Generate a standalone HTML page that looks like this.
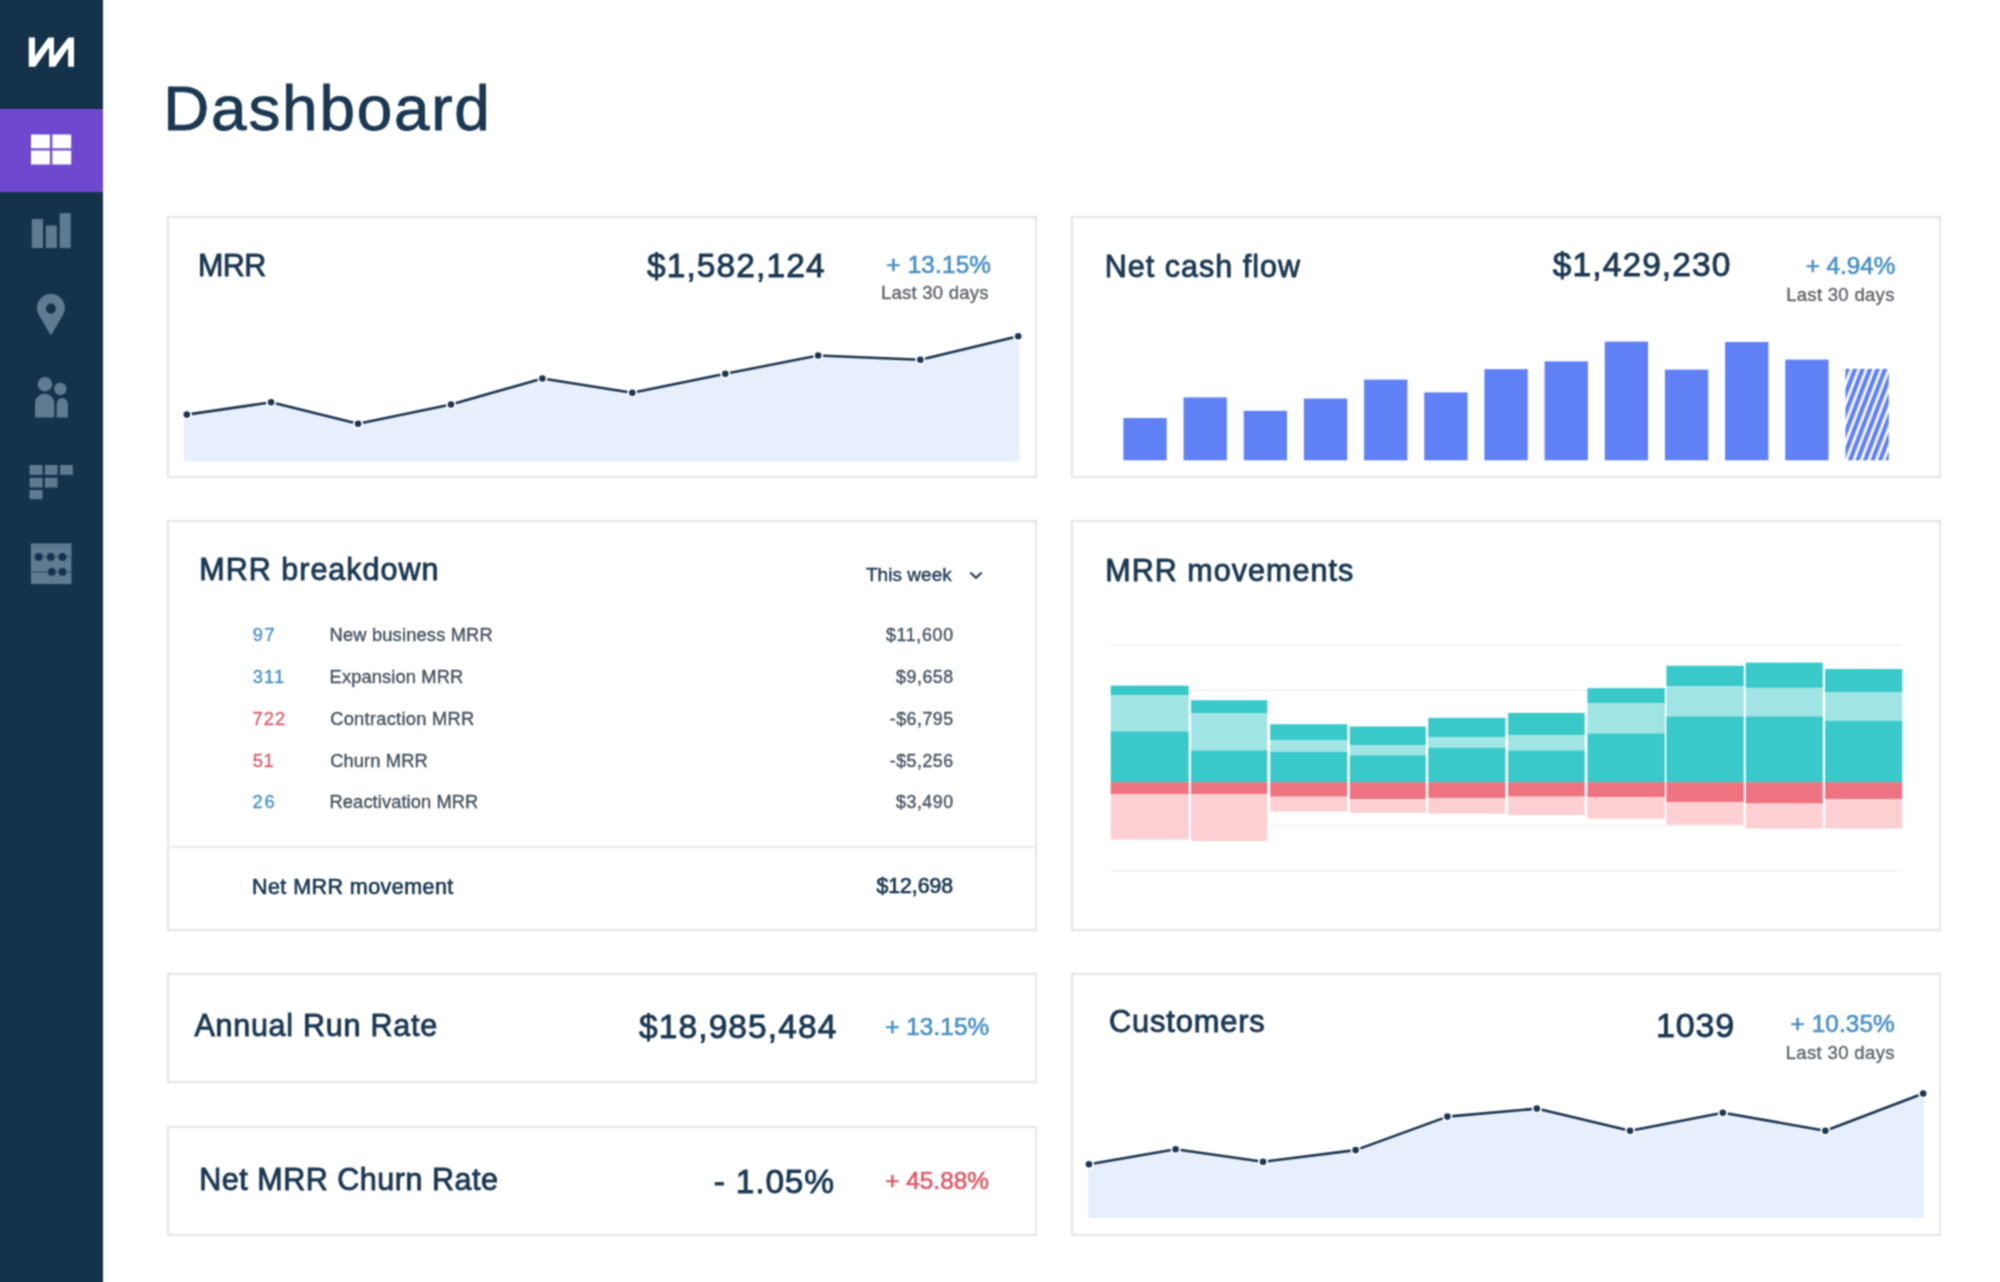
<!DOCTYPE html>
<html><head><meta charset="utf-8"><title>Dashboard</title>
<style>
html,body{margin:0;padding:0;width:2000px;height:1282px;overflow:hidden;background:#ffffff;}
body{position:relative;font-family:"Liberation Sans",sans-serif;}
#sb{position:absolute;left:0;top:0;width:103px;height:1282px;background:#15324b;}
#sbact{position:absolute;left:0;top:109px;width:103px;height:83px;background:#6e49cf;}
.card{position:absolute;box-sizing:border-box;border:2px solid #e5e5e5;background:#fff;}
.t{position:absolute;white-space:nowrap;}
#wrap{position:absolute;left:0;top:0;width:2000px;height:1282px;overflow:hidden;filter:url(#soft);}
</style></head><body><svg width="0" height="0" style="position:absolute;left:0;top:0"><filter id="soft" x="0" y="0" width="100%" height="100%" filterUnits="objectBoundingBox" color-interpolation-filters="sRGB"><feConvolveMatrix order="3" kernelMatrix="1 2 1 2 4 2 1 2 1" divisor="16" edgeMode="duplicate"/></filter></svg><div id="wrap">
<div id="sb"></div>
<div id="sbact"></div>
<svg id="icons" width="103" height="1282" viewBox="0 0 103 1282" style="position:absolute;left:0;top:0">
<polygon fill="#ffffff" points="28.8,66.7 28.8,37.6 35,37.6 35,55.9 48.4,37.6 54,37.6 54,55.9 68.4,37.6 74,37.6 74,66.7 68.1,66.7 68.1,48 55.2,66.7 49,66.7 49,47.5 35.3,66.7"/>
<g fill="#ffffff">
<rect x="31" y="134.5" width="18.9" height="13.8"/><rect x="52.3" y="134.5" width="18.9" height="13.8"/>
<rect x="31" y="150.5" width="18.9" height="14"/><rect x="52.3" y="150.5" width="18.9" height="14"/>
</g>
<g fill="#5f7b91">
<rect x="31.8" y="219" width="11.2" height="29"/><rect x="45.8" y="225.6" width="11" height="22.4"/><rect x="59.7" y="213.1" width="11" height="34.9"/>
<path d="M50.9,335.4 L38.6,314.5 A14,14 0 1 1 63.2,314.5 Z M50.9,303.6 A5,5 0 1 0 50.91,303.6 Z" fill-rule="evenodd"/>
<circle cx="44.9" cy="384.2" r="7.3"/><circle cx="60.3" cy="388.9" r="6.2"/>
<path d="M35,417.6 V403.4 A9.65,9.65 0 0 1 54.3,403.4 V417.6 Z"/>
<path d="M56.7,417.6 V404 A5.6,5.9 0 0 1 67.9,404 V417.6 Z"/>
<rect x="29.6" y="465" width="12.9" height="9.8"/><rect x="44.9" y="465" width="12.6" height="9.8"/><rect x="60.1" y="465" width="12.7" height="9.8"/>
<rect x="29.6" y="477.8" width="12.9" height="9.7"/><rect x="44.9" y="477.8" width="12.6" height="9.7"/>
<rect x="29.6" y="490" width="12.9" height="9.2"/>
<rect x="30.9" y="543.4" width="40.6" height="40.7"/>
</g>
<g fill="#163250">
<circle cx="38.7" cy="556.9" r="3.9"/><circle cx="50.7" cy="556.9" r="3.9"/><circle cx="62.5" cy="556.9" r="3.9"/>
<circle cx="51.8" cy="571.9" r="3.9"/><circle cx="62.5" cy="571.9" r="3.9"/>
<rect x="33.5" y="556.5" width="40" height="0.8" opacity="0.6"/><rect x="30.9" y="571.5" width="42.5" height="0.8" opacity="0.8"/>
</g>
</svg>
<div class="t" style="left:163.22px;top:76.69px;font-size:63.80px;line-height:63.80px;color:#1b3852;letter-spacing:1.813px;-webkit-text-stroke:0.8999999999999999px #1b3852;">Dashboard</div>
<div class="card" style="left:167px;top:216px;width:870px;height:262px"></div>
<div class="card" style="left:1071px;top:216px;width:870px;height:262px"></div>
<div class="card" style="left:167px;top:520px;width:870px;height:411px"></div>
<div class="card" style="left:1071px;top:520px;width:870px;height:411px"></div>
<div class="card" style="left:167px;top:973px;width:870px;height:110px"></div>
<div class="card" style="left:167px;top:1126px;width:870px;height:110px"></div>
<div class="card" style="left:1071px;top:973px;width:870px;height:263px"></div>
<div style="position:absolute;left:167px;top:846px;width:870px;height:2px;background:#ececec"></div>
<div class="t" style="left:197.95px;top:249.58px;font-size:30.50px;line-height:30.50px;color:#1b3852;letter-spacing:-0.588px;-webkit-text-stroke:0.8999999999999999px #1b3852;">MRR</div>
<div class="t" style="left:646.95px;top:248.64px;font-size:33.50px;line-height:33.50px;color:#1b3852;letter-spacing:1.108px;-webkit-text-stroke:0.8999999999999999px #1b3852;">$1,582,124</div>
<div class="t" style="left:886.36px;top:252.83px;font-size:24.30px;line-height:24.30px;color:#4a91c6;letter-spacing:0.173px;-webkit-text-stroke:0.66px #4a91c6;">+ 13.15%</div>
<div class="t" style="left:881.06px;top:284.44px;font-size:18.50px;line-height:18.50px;color:#5e6369;letter-spacing:0.230px;-webkit-text-stroke:0.36px #5e6369;">Last 30 days</div>
<div class="t" style="left:1104.75px;top:250.68px;font-size:30.50px;line-height:30.50px;color:#1b3852;letter-spacing:1.023px;-webkit-text-stroke:0.8999999999999999px #1b3852;">Net cash flow</div>
<div class="t" style="left:1552.85px;top:247.64px;font-size:33.50px;line-height:33.50px;color:#1b3852;letter-spacing:1.093px;-webkit-text-stroke:0.8999999999999999px #1b3852;">$1,429,230</div>
<div class="t" style="left:1805.66px;top:253.93px;font-size:24.30px;line-height:24.30px;color:#4a91c6;letter-spacing:-0.030px;-webkit-text-stroke:0.66px #4a91c6;">+ 4.94%</div>
<div class="t" style="left:1786.16px;top:285.64px;font-size:18.50px;line-height:18.50px;color:#5e6369;letter-spacing:0.303px;-webkit-text-stroke:0.36px #5e6369;">Last 30 days</div>
<div class="t" style="left:199.35px;top:554.48px;font-size:30.50px;line-height:30.50px;color:#1b3852;letter-spacing:0.999px;-webkit-text-stroke:0.8999999999999999px #1b3852;">MRR breakdown</div>
<div class="t" style="left:865.96px;top:564.67px;font-size:19.00px;line-height:19.00px;color:#1b3852;letter-spacing:0.040px;-webkit-text-stroke:0.36px #1b3852;">This week</div>
<div class="t" style="left:252.64px;top:625.91px;font-size:18.30px;line-height:18.30px;color:#4a91c6;letter-spacing:1.747px;-webkit-text-stroke:0.36px #4a91c6;">97</div>
<div class="t" style="left:329.58px;top:625.91px;font-size:18.30px;line-height:18.30px;color:#45525f;letter-spacing:0.174px;-webkit-text-stroke:0.36px #45525f;">New business MRR</div>
<div class="t" style="left:885.97px;top:626.93px;font-size:17.80px;line-height:17.80px;color:#45525f;letter-spacing:0.686px;-webkit-text-stroke:0.36px #45525f;">$11,600</div>
<div class="t" style="left:252.78px;top:667.51px;font-size:18.30px;line-height:18.30px;color:#4a91c6;letter-spacing:1.172px;-webkit-text-stroke:0.36px #4a91c6;">311</div>
<div class="t" style="left:329.58px;top:667.51px;font-size:18.30px;line-height:18.30px;color:#45525f;letter-spacing:0.132px;-webkit-text-stroke:0.36px #45525f;">Expansion MRR</div>
<div class="t" style="left:896.07px;top:668.53px;font-size:17.80px;line-height:17.80px;color:#45525f;letter-spacing:0.541px;-webkit-text-stroke:0.36px #45525f;">$9,658</div>
<div class="t" style="left:252.53px;top:709.91px;font-size:18.30px;line-height:18.30px;color:#dc5c6c;letter-spacing:1.091px;-webkit-text-stroke:0.36px #dc5c6c;">722</div>
<div class="t" style="left:330.16px;top:709.91px;font-size:18.30px;line-height:18.30px;color:#45525f;letter-spacing:0.277px;-webkit-text-stroke:0.36px #45525f;">Contraction MRR</div>
<div class="t" style="left:889.80px;top:710.93px;font-size:17.80px;line-height:17.80px;color:#45525f;letter-spacing:0.499px;-webkit-text-stroke:0.36px #45525f;">-$6,795</div>
<div class="t" style="left:252.75px;top:751.51px;font-size:18.30px;line-height:18.30px;color:#dc5c6c;letter-spacing:0.601px;-webkit-text-stroke:0.36px #dc5c6c;">51</div>
<div class="t" style="left:330.16px;top:751.51px;font-size:18.30px;line-height:18.30px;color:#45525f;letter-spacing:0.126px;-webkit-text-stroke:0.36px #45525f;">Churn MRR</div>
<div class="t" style="left:889.80px;top:752.53px;font-size:17.80px;line-height:17.80px;color:#45525f;letter-spacing:0.505px;-webkit-text-stroke:0.36px #45525f;">-$5,256</div>
<div class="t" style="left:252.57px;top:792.51px;font-size:18.30px;line-height:18.30px;color:#4a91c6;letter-spacing:1.711px;-webkit-text-stroke:0.36px #4a91c6;">26</div>
<div class="t" style="left:329.58px;top:792.51px;font-size:18.30px;line-height:18.30px;color:#45525f;letter-spacing:0.088px;-webkit-text-stroke:0.36px #45525f;">Reactivation MRR</div>
<div class="t" style="left:896.07px;top:793.53px;font-size:17.80px;line-height:17.80px;color:#45525f;letter-spacing:0.520px;-webkit-text-stroke:0.36px #45525f;">$3,490</div>
<div class="t" style="left:251.97px;top:876.80px;font-size:21.50px;line-height:21.50px;color:#1b3852;letter-spacing:0.442px;-webkit-text-stroke:0.66px #1b3852;">Net MRR movement</div>
<div class="t" style="left:876.57px;top:875.67px;font-size:21.30px;line-height:21.30px;color:#1b3852;letter-spacing:-0.091px;-webkit-text-stroke:0.66px #1b3852;">$12,698</div>
<div class="t" style="left:1105.25px;top:554.68px;font-size:30.50px;line-height:30.50px;color:#1b3852;letter-spacing:1.026px;-webkit-text-stroke:0.8999999999999999px #1b3852;">MRR movements</div>
<div class="t" style="left:194.39px;top:1009.68px;font-size:30.50px;line-height:30.50px;color:#1b3852;letter-spacing:0.751px;-webkit-text-stroke:0.8999999999999999px #1b3852;">Annual Run Rate</div>
<div class="t" style="left:639.05px;top:1009.64px;font-size:33.50px;line-height:33.50px;color:#1b3852;letter-spacing:1.095px;-webkit-text-stroke:0.8999999999999999px #1b3852;">$18,985,484</div>
<div class="t" style="left:885.16px;top:1014.63px;font-size:24.30px;line-height:24.30px;color:#4a91c6;letter-spacing:0.087px;-webkit-text-stroke:0.66px #4a91c6;">+ 13.15%</div>
<div class="t" style="left:199.25px;top:1163.68px;font-size:30.50px;line-height:30.50px;color:#1b3852;letter-spacing:0.520px;-webkit-text-stroke:0.8999999999999999px #1b3852;">Net MRR Churn Rate</div>
<div class="t" style="left:713.78px;top:1164.64px;font-size:33.50px;line-height:33.50px;color:#1b3852;letter-spacing:0.812px;-webkit-text-stroke:0.8999999999999999px #1b3852;">- 1.05%</div>
<div class="t" style="left:885.16px;top:1168.93px;font-size:24.30px;line-height:24.30px;color:#dc5c6c;letter-spacing:0.058px;-webkit-text-stroke:0.66px #dc5c6c;">+ 45.88%</div>
<div class="t" style="left:1108.91px;top:1007.13px;font-size:30.80px;line-height:30.80px;color:#1b3852;letter-spacing:0.858px;-webkit-text-stroke:0.8999999999999999px #1b3852;">Customers</div>
<div class="t" style="left:1656.07px;top:1008.22px;font-size:34.00px;line-height:34.00px;color:#1b3852;letter-spacing:0.833px;-webkit-text-stroke:0.8999999999999999px #1b3852;">1039</div>
<div class="t" style="left:1790.46px;top:1012.43px;font-size:24.30px;line-height:24.30px;color:#4a91c6;letter-spacing:0.130px;-webkit-text-stroke:0.66px #4a91c6;">+ 10.35%</div>
<div class="t" style="left:1785.66px;top:1043.84px;font-size:18.50px;line-height:18.50px;color:#5e6369;letter-spacing:0.357px;-webkit-text-stroke:0.36px #5e6369;">Last 30 days</div>
<svg width="2000" height="1282" style="position:absolute;left:0;top:0">
<polygon fill="#e8effc" points="184,461.5 184,414.6 186.8,414.6 271.1,402.3 358.1,423.8 451,404.5 542.4,378.5 632.3,392.7 725.3,373.8 818.2,355.5 920.4,359.8 1018.2,336.3 1019.5,336.3 1019.5,461.5"/><polyline fill="none" stroke="#1d3550" stroke-width="2.6" stroke-linejoin="round" points="186.8,414.6 271.1,402.3 358.1,423.8 451,404.5 542.4,378.5 632.3,392.7 725.3,373.8 818.2,355.5 920.4,359.8 1018.2,336.3"/><circle cx="186.8" cy="414.6" r="4.2" fill="#1d3550" stroke="#ffffff" stroke-width="1.8"/><circle cx="271.1" cy="402.3" r="4.2" fill="#1d3550" stroke="#ffffff" stroke-width="1.8"/><circle cx="358.1" cy="423.8" r="4.2" fill="#1d3550" stroke="#ffffff" stroke-width="1.8"/><circle cx="451" cy="404.5" r="4.2" fill="#1d3550" stroke="#ffffff" stroke-width="1.8"/><circle cx="542.4" cy="378.5" r="4.2" fill="#1d3550" stroke="#ffffff" stroke-width="1.8"/><circle cx="632.3" cy="392.7" r="4.2" fill="#1d3550" stroke="#ffffff" stroke-width="1.8"/><circle cx="725.3" cy="373.8" r="4.2" fill="#1d3550" stroke="#ffffff" stroke-width="1.8"/><circle cx="818.2" cy="355.5" r="4.2" fill="#1d3550" stroke="#ffffff" stroke-width="1.8"/><circle cx="920.4" cy="359.8" r="4.2" fill="#1d3550" stroke="#ffffff" stroke-width="1.8"/><circle cx="1018.2" cy="336.3" r="4.2" fill="#1d3550" stroke="#ffffff" stroke-width="1.8"/>
<polygon fill="#e8effc" points="1088.3,1217.8 1088.3,1164.3 1089,1164.3 1175.6,1149.2 1263.1,1161.7 1355.6,1150.1 1447.4,1116.6 1536.8,1108.6 1630.1,1130.7 1722.8,1112.7 1825.4,1130.7 1923.2,1093.5 1924.3,1093.5 1924.3,1217.8"/><polyline fill="none" stroke="#1d3550" stroke-width="2.6" stroke-linejoin="round" points="1089,1164.3 1175.6,1149.2 1263.1,1161.7 1355.6,1150.1 1447.4,1116.6 1536.8,1108.6 1630.1,1130.7 1722.8,1112.7 1825.4,1130.7 1923.2,1093.5"/><circle cx="1089" cy="1164.3" r="4.2" fill="#1d3550" stroke="#ffffff" stroke-width="1.8"/><circle cx="1175.6" cy="1149.2" r="4.2" fill="#1d3550" stroke="#ffffff" stroke-width="1.8"/><circle cx="1263.1" cy="1161.7" r="4.2" fill="#1d3550" stroke="#ffffff" stroke-width="1.8"/><circle cx="1355.6" cy="1150.1" r="4.2" fill="#1d3550" stroke="#ffffff" stroke-width="1.8"/><circle cx="1447.4" cy="1116.6" r="4.2" fill="#1d3550" stroke="#ffffff" stroke-width="1.8"/><circle cx="1536.8" cy="1108.6" r="4.2" fill="#1d3550" stroke="#ffffff" stroke-width="1.8"/><circle cx="1630.1" cy="1130.7" r="4.2" fill="#1d3550" stroke="#ffffff" stroke-width="1.8"/><circle cx="1722.8" cy="1112.7" r="4.2" fill="#1d3550" stroke="#ffffff" stroke-width="1.8"/><circle cx="1825.4" cy="1130.7" r="4.2" fill="#1d3550" stroke="#ffffff" stroke-width="1.8"/><circle cx="1923.2" cy="1093.5" r="4.2" fill="#1d3550" stroke="#ffffff" stroke-width="1.8"/>
<defs><pattern id="hatch" patternUnits="userSpaceOnUse" width="7" height="7" patternTransform="rotate(21)"><rect x="0" y="0" width="4.3" height="7" fill="#6080f6"/></pattern></defs>
<rect x="1123.40" y="418" width="43.3" height="42.30" fill="#6080f6"/>
<rect x="1183.57" y="397.4" width="43.3" height="62.90" fill="#6080f6"/>
<rect x="1243.74" y="410.8" width="43.3" height="49.50" fill="#6080f6"/>
<rect x="1303.91" y="398.6" width="43.3" height="61.70" fill="#6080f6"/>
<rect x="1364.08" y="379.6" width="43.3" height="80.70" fill="#6080f6"/>
<rect x="1424.25" y="392.4" width="43.3" height="67.90" fill="#6080f6"/>
<rect x="1484.42" y="369.2" width="43.3" height="91.10" fill="#6080f6"/>
<rect x="1544.59" y="361.4" width="43.3" height="98.90" fill="#6080f6"/>
<rect x="1604.76" y="341.6" width="43.3" height="118.70" fill="#6080f6"/>
<rect x="1664.93" y="369.6" width="43.3" height="90.70" fill="#6080f6"/>
<rect x="1725.10" y="342" width="43.3" height="118.30" fill="#6080f6"/>
<rect x="1785.27" y="359.6" width="43.3" height="100.70" fill="#6080f6"/>
<rect x="1845.44" y="368.8" width="43.3" height="91.50" fill="url(#hatch)"/>
<polyline points="970.3,572.5 976,577.8 981.7,572.5" fill="none" stroke="#2a3b4c" stroke-width="2"/>
<rect x="1110.5" y="644.5" width="792" height="1.5" fill="#f1f1f1"/>
<rect x="1110.5" y="689.5" width="792" height="1.5" fill="#f1f1f1"/>
<rect x="1110.5" y="825" width="792" height="1.5" fill="#f1f1f1"/>
<rect x="1110.5" y="870" width="792" height="1.5" fill="#f1f1f1"/>
<rect x="1110.7" y="685.6" width="78.00" height="9.70" fill="#39c9c9"/>
<rect x="1110.7" y="695.3" width="78.00" height="36.10" fill="#a0e5e4"/>
<rect x="1110.7" y="731.4" width="78.00" height="50.70" fill="#39c9c9"/>
<rect x="1110.7" y="782.1" width="78.00" height="12.30" fill="#ee7381"/>
<rect x="1110.7" y="794.4" width="78.00" height="45.20" fill="#fcd0d3"/>
<rect x="1191" y="700.2" width="76.30" height="13.30" fill="#39c9c9"/>
<rect x="1191" y="713.5" width="76.30" height="36.80" fill="#a0e5e4"/>
<rect x="1191" y="750.3" width="76.30" height="31.80" fill="#39c9c9"/>
<rect x="1191" y="782.1" width="76.30" height="12.30" fill="#ee7381"/>
<rect x="1191" y="794.4" width="76.30" height="46.60" fill="#fcd0d3"/>
<rect x="1270.2" y="724.2" width="77.10" height="16.00" fill="#39c9c9"/>
<rect x="1270.2" y="740.2" width="77.10" height="11.70" fill="#a0e5e4"/>
<rect x="1270.2" y="751.9" width="77.10" height="30.20" fill="#39c9c9"/>
<rect x="1270.2" y="782.1" width="77.10" height="14.60" fill="#ee7381"/>
<rect x="1270.2" y="796.7" width="77.10" height="14.70" fill="#fcd0d3"/>
<rect x="1349.8" y="726.5" width="76.00" height="18.90" fill="#39c9c9"/>
<rect x="1349.8" y="745.4" width="76.00" height="9.80" fill="#a0e5e4"/>
<rect x="1349.8" y="755.2" width="76.00" height="26.90" fill="#39c9c9"/>
<rect x="1349.8" y="782.1" width="76.00" height="17.20" fill="#ee7381"/>
<rect x="1349.8" y="799.3" width="76.00" height="13.60" fill="#fcd0d3"/>
<rect x="1428.3" y="717.8" width="77.10" height="19.50" fill="#39c9c9"/>
<rect x="1428.3" y="737.3" width="77.10" height="10.30" fill="#a0e5e4"/>
<rect x="1428.3" y="747.6" width="77.10" height="34.50" fill="#39c9c9"/>
<rect x="1428.3" y="782.1" width="77.10" height="16.00" fill="#ee7381"/>
<rect x="1428.3" y="798.1" width="77.10" height="15.60" fill="#fcd0d3"/>
<rect x="1508.1" y="712.9" width="76.60" height="22.40" fill="#39c9c9"/>
<rect x="1508.1" y="735.3" width="76.60" height="15.00" fill="#a0e5e4"/>
<rect x="1508.1" y="750.3" width="76.60" height="31.80" fill="#39c9c9"/>
<rect x="1508.1" y="782.1" width="76.60" height="14.60" fill="#ee7381"/>
<rect x="1508.1" y="796.7" width="76.60" height="18.60" fill="#fcd0d3"/>
<rect x="1587.4" y="688.1" width="77.40" height="15.00" fill="#39c9c9"/>
<rect x="1587.4" y="703.1" width="77.40" height="30.30" fill="#a0e5e4"/>
<rect x="1587.4" y="733.4" width="77.40" height="48.70" fill="#39c9c9"/>
<rect x="1587.4" y="782.1" width="77.40" height="15.00" fill="#ee7381"/>
<rect x="1587.4" y="797.1" width="77.40" height="21.70" fill="#fcd0d3"/>
<rect x="1666.4" y="665.7" width="77.40" height="20.50" fill="#39c9c9"/>
<rect x="1666.4" y="686.2" width="77.40" height="30.20" fill="#a0e5e4"/>
<rect x="1666.4" y="716.4" width="77.40" height="65.70" fill="#39c9c9"/>
<rect x="1666.4" y="782.1" width="77.40" height="19.90" fill="#ee7381"/>
<rect x="1666.4" y="802" width="77.40" height="22.60" fill="#fcd0d3"/>
<rect x="1745.8" y="662.6" width="77.00" height="25.30" fill="#39c9c9"/>
<rect x="1745.8" y="687.9" width="77.00" height="28.50" fill="#a0e5e4"/>
<rect x="1745.8" y="716.4" width="77.00" height="65.70" fill="#39c9c9"/>
<rect x="1745.8" y="782.1" width="77.00" height="21.50" fill="#ee7381"/>
<rect x="1745.8" y="803.6" width="77.00" height="24.90" fill="#fcd0d3"/>
<rect x="1825.1" y="669" width="77.10" height="23.40" fill="#39c9c9"/>
<rect x="1825.1" y="692.4" width="77.10" height="28.30" fill="#a0e5e4"/>
<rect x="1825.1" y="720.7" width="77.10" height="61.40" fill="#39c9c9"/>
<rect x="1825.1" y="782.1" width="77.10" height="17.20" fill="#ee7381"/>
<rect x="1825.1" y="799.3" width="77.10" height="29.20" fill="#fcd0d3"/>
</svg>
</div></body></html>
